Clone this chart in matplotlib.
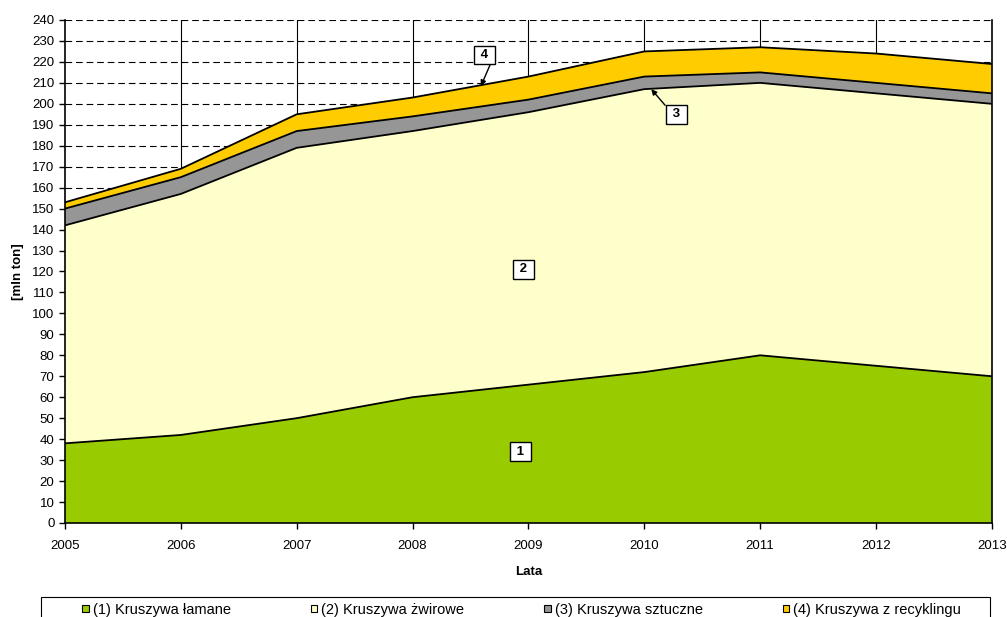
import matplotlib.pyplot as plt
from matplotlib.patches import Rectangle

plt.rcParams['font.family'] = ['Liberation Sans', 'DejaVu Sans']

years = [2005, 2006, 2007, 2008, 2009, 2010, 2011, 2012, 2013]
lamane = [38, 42, 50, 60, 66, 72, 80, 75, 70]
zwirowe = [104, 115, 129, 127, 130, 135, 130, 130, 130]
sztuczne = [8, 8, 8, 7, 6, 6, 5, 5, 5]
recykling = [3, 4, 8, 9, 11, 12, 12, 14, 14]
labels = ['(1) Kruszywa łamane', '(2) Kruszywa żwirowe',
          '(3) Kruszywa sztuczne', '(4) Kruszywa z recyklingu']
colors = ['#99CC00', '#FFFFCC', '#969696', '#FFCC00']

fig = plt.figure(figsize=(10.07, 6.17), dpi=100)
ax = fig.add_axes([0.0645, 0.1524, 0.9205, 0.8152])

# grid under the areas
for v in range(0, 241, 10):
    ax.axhline(v, color='black', lw=0.8, ls=(0, (6, 3.5)), zorder=0)
for yr in years[1:-1]:
    ax.axvline(yr, color='black', lw=0.8, zorder=0)

polys = ax.stackplot(years, lamane, zwirowe, sztuczne, recykling,
                     colors=colors, labels=labels, zorder=2)
for p in polys:
    p.set_edgecolor('none')

# black outline on top of each layer
top = [0] * len(years)
for s in [lamane, zwirowe, sztuczne, recykling]:
    top = [a + b for a, b in zip(top, s)]
    ax.plot(years, top, color='black', lw=1.3, zorder=3)

ax.set_xlim(2005, 2013)
ax.set_ylim(0, 240)
ax.set_xticks(years)
ax.set_yticks(range(0, 241, 10))
ax.tick_params(axis='both', labelsize=9.5, direction='out', length=4, width=1)
ax.tick_params(axis='x', pad=8)
for s in ['left', 'bottom', 'right']:
    ax.spines[s].set_linewidth(1.2)
ax.spines['top'].set_visible(False)

ax.set_xlabel('Lata', fontsize=9.5, fontweight='bold', labelpad=10)
ax.set_ylabel('[mln ton]', fontsize=9.5, fontweight='bold', labelpad=6)

box = dict(boxstyle='square,pad=0.25', fc='white', ec='black', lw=1)
arrow = dict(arrowstyle='-|>', color='black', lw=1, mutation_scale=8, shrinkA=0, shrinkB=0)
ax.text(2008.93, 34, ' 1 ', fontsize=9.5, fontweight='bold', ha='center', va='center', bbox=box, zorder=5)
ax.text(2008.96, 121, ' 2 ', fontsize=9.5, fontweight='bold', ha='center', va='center', bbox=box, zorder=5)
ax.text(2010.28, 195, ' 3 ', fontsize=9.5, fontweight='bold', ha='center', va='center', bbox=box, zorder=5)
ax.annotate('', xy=(2010.06, 207), xytext=(2010.18, 199.3), arrowprops=arrow, zorder=5)
ax.text(2008.62, 223.3, ' 4 ', fontsize=9.5, fontweight='bold', ha='center', va='center', bbox=box, zorder=5)
ax.annotate('', xy=(2008.59, 208.5), xytext=(2008.67, 218.7), arrowprops=arrow, zorder=5)

leg = fig.legend(handles=polys, labels=labels, loc='upper center', ncol=4,
                 bbox_to_anchor=(0.518, 0.035), fontsize=10.5, columnspacing=5.5,
                 frameon=False, borderpad=0.5,
                 handlelength=0.45, handleheight=0.45, handletextpad=0.25, borderaxespad=0)
for h in leg.legend_handles:
    h.set_edgecolor('black')
    h.set_linewidth(0.8)

# legend frame, wider than the entries and cut by the bottom edge
fig.patches.append(Rectangle((41 / 1007, -0.05), 949 / 1007, 0.05 + 20 / 617,
                             transform=fig.transFigure, fill=False,
                             edgecolor='black', lw=0.8))

fig.savefig('out.png', dpi=100)
